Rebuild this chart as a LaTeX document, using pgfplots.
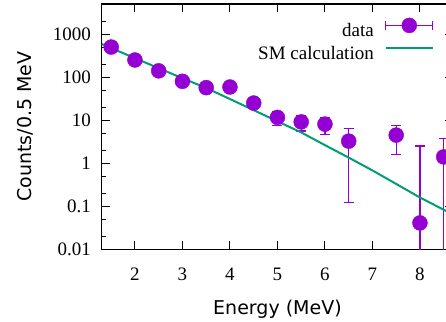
\documentclass[border=0pt]{standalone}
\usepackage{fontspec}
\setmainfont{Liberation Serif}
\newfontfamily\labelfont{DejaVu Sans}
\usepackage{pgfplots}
\usepackage{pgfplotstable}
\pgfplotsset{compat=1.18}
\definecolor{dv}{HTML}{9400D3}
\definecolor{sm}{HTML}{009E73}

\pgfplotstableread{
x y ep em
1.5 500 22 22
2 250 16 16
2.5 140 12 12
3 80 9 9
3.5 57 7.5 7.5
4 59 7.7 7.7
4.5 25 5 5
5 11.6 4.2 4.2
5.5 9.1 3.5 3.5
6 8.1 3.5 3.5
6.5 3.26 3.14 3.14
7.5 4.5 2.9 2.9
8 0.041 2.46 0.0409
8.5 1.4 2.35 1.3999
}\datatab

\pgfplotstableread{
x y
1.3 590
1.5 472
2 276
2.5 161
3 94.4
3.5 56
4 31
4.5 17.1
5 9.4
5.5 5.2
6 2.63
6.5 1.35
7 0.68
7.5 0.33
8 0.16
8.5 0.083
8.7 0.063
}\smtab

\begin{document}
\begin{tikzpicture}
\clip (-101.7bp,-72.7bp) rectangle (344.3bp,249.3bp);
\begin{axis}[
  at={(0,0)}, anchor=south west, scale only axis,
  width=351.5bp, height=245.3bp,
  ymode=log, xmin=1.3, xmax=8.7, ymin=0.01, ymax=5000,
  xtick={2,3,4,5,6,7,8}, xticklabels={2,3,4,5,6,7,8},
  ytick={0.01,0.1,1,10,100,1000}, yticklabels={0.01,0.1,1,10,100,1000},
  minor ytick={0.02,0.05,0.2,0.5,2,5,20,50,200,500,2000,5000},
  /pgf/number format/assume math mode=true,
  tick align=inside, major tick length=8.3bp, minor tick length=4.3bp,
  tick style={black, line width=0.9bp},
  axis line style={line width=1.2bp},
  tick label style={font=\fontsize{19bp}{22bp}\selectfont, inner sep=0pt},
  xticklabel style={anchor=base, yshift=-30.7bp},
  yticklabel style={anchor=east, xshift=-10.5bp},
  xlabel={Energy (MeV)}, ylabel={Counts/0.5 MeV},
  label style={font=\labelfont\fontsize{19bp}{22bp}\selectfont, inner sep=0pt},
  xlabel style={at={(axis description cs:0.5,-0.266)}, anchor=base},
  ylabel style={at={(axis description cs:-0.216,0.5)}, anchor=center},
  legend plot pos=right,
  legend cell align=right,
  legend style={draw=none, fill=none, inner sep=0pt, outer sep=0pt,
    font=\fontsize{19bp}{22bp}\selectfont,
    nodes={inner sep=0pt}, column sep=11bp, row sep=8.2bp,
    at={(axis description cs:1,1)}, anchor=north east,
    xshift=-19.4bp, yshift=-13.7bp},
]
\addplot[dv, only marks, mark=*, mark size=7.5bp, mark options={draw=none, fill=dv},
  legend image code/.code={
    \draw[dv, line width=1.2bp] (0bp,5.7bp) -- (47bp,5.7bp);
    \draw[dv, line width=1.2bp] (0bp,1bp) -- (0bp,10.4bp);
    \draw[dv, line width=1.2bp] (47bp,1bp) -- (47bp,10.4bp);
    \fill[dv] (23.5bp,5.7bp) circle (7.5bp);
  },
  error bars/.cd, y dir=both, y explicit,
  error bar style={line width=1.2bp, dv},
  error mark options={rotate=90, mark size=5bp, line width=1.2bp, dv}]
  table[x=x, y=y, y error plus=ep, y error minus=em] {\datatab};
\addlegendentry{data}
\addplot[sm, line width=2bp, no marks,
  legend image code/.code={
    \draw[sm, line width=2bp] (0bp,5.7bp) -- (47bp,5.7bp);
  }] table[x=x, y=y] {\smtab};
\addlegendentry{SM calculation}
\end{axis}
\end{tikzpicture}
\end{document}
